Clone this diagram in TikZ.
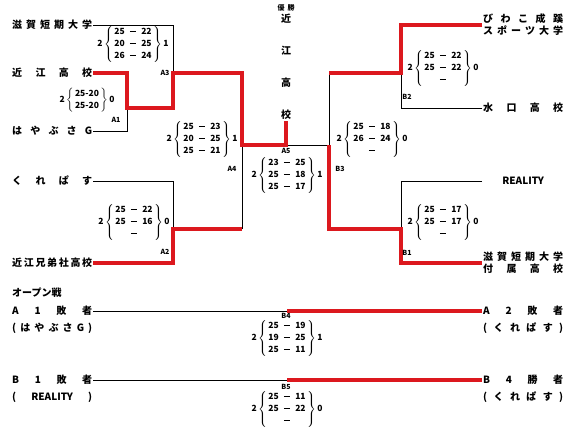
\documentclass[tikz,border=0pt]{standalone}
\usepackage{fontspec}
\setmainfont{Noto Sans CJK JP}
\usetikzlibrary{positioning}

\definecolor{winred}{RGB}{220,24,30}
\newcommand{\spreadname}[1]{\hbox to 80pt{#1}}
\newcommand{\dsh}{\rule[2.6pt]{6.5pt}{1.1pt}}
\newcommand{\setscore}[3]{#1\,$\left\{\,\begin{tabular}{@{}r@{\hspace{5pt}}c@{\hspace{5pt}}l@{}}#3\end{tabular}\,\right\}$\,#2}

\tikzstyle{team} = [anchor=west, inner sep=1pt, align=center, font=\bfseries\fontsize{10}{12}\selectfont]
\tikzstyle{score} = [inner sep=0pt, font=\bfseries\fontsize{8.5}{12}\selectfont]
\tikzstyle{matchlabel} = [inner sep=0pt, font=\bfseries\fontsize{7}{8}\selectfont]
\tikzstyle{champ} = [inner sep=1pt, align=center, font=\bfseries\fontsize{10}{32}\selectfont]
\tikzstyle{loseline} = [line width=0.9pt, draw=black]
\tikzstyle{winline} = [line width=3.2pt, draw=winred]

\begin{document}
\begin{tikzpicture}[x=1pt, y=-1pt]
\useasboundingbox (0,0) rectangle (580,431);

% teams, left block
\node (shiga) [team] at (11,25) {\spreadname{滋\hfil 賀\hfil 短\hfil 期\hfil 大\hfil 学}};
\node (omi) [team] at (11,73) {\spreadname{近\hfil 江\hfil 高\hfil 校}};
\node (hayabusa) [team] at (11,131) {\spreadname{は\hfil や\hfil ぶ\hfil さ\hfil G}};
\node (krepas) [team] at (11,181) {\spreadname{く\hfil れ\hfil ぱ\hfil す}};
\node (kyodai) [team] at (11,263) {\spreadname{近\hfil 江\hfil 兄\hfil 弟\hfil 社\hfil 高\hfil 校}};

% teams, right block
\node (biwako) [team] at (482,25) {\spreadname{び\hfil わ\hfil こ\hfil 成\hfil 蹊}\\\spreadname{ス\hfil ポ\hfil ー\hfil ツ\hfil 大\hfil 学}};
\node (minakuchi) [team] at (482,108) {\spreadname{水\hfil 口\hfil 高\hfil 校}};
\node (reality) [team] at (482,181) {\spreadname{\hfil REALITY\hfil}};
\node (fuzoku) [team] at (482,263) {\spreadname{滋\hfil 賀\hfil 短\hfil 期\hfil 大\hfil 学}\\\spreadname{付\hfil 属\hfil 高\hfil 校}};

% champion
\node (yusho) [matchlabel] at (286,8) {優\hspace{3pt}勝};
\node (champ) [champ] at (286,67) {近\\江\\高\\校};

% match points
\coordinate (a1t) at (127,73);
\coordinate (a1b) at (127,131);
\coordinate (a1o) at (127,108);
\coordinate (a3t) at (173,25);
\coordinate (a3b) at (173,108);
\coordinate (a3o) at (173,73);
\coordinate (a2t) at (173,181);
\coordinate (a2b) at (173,263);
\coordinate (a2o) at (173,229);
\coordinate (a4t) at (242,73);
\coordinate (a4b) at (242,229);
\coordinate (a4o) at (242,145);
\coordinate (a5) at (286,145);
\coordinate (b2t) at (401,25);
\coordinate (b2b) at (401,108);
\coordinate (b2o) at (401,73);
\coordinate (b1t) at (401,181);
\coordinate (b1b) at (401,263);
\coordinate (b1o) at (401,229);
\coordinate (b3t) at (329,73);
\coordinate (b3b) at (329,229);
\coordinate (b3o) at (329,145);

% losing lines
\draw[loseline] (hayabusa.east) -- (a1b) -- (a1o);
\draw[loseline] (shiga.east) -- (a3t) -- (a3o);
\draw[loseline] (krepas.east) -- (a2t) -- (a2o);
\draw[loseline] (a4o) -- (a4b);
\draw[loseline] (minakuchi.west) -- (b2b) -- (b2o);
\draw[loseline] (reality.west) -- (b1t) -- (b1o);
\draw[loseline] (b3t) -- (b3o) -- (a5);

% winning lines
\draw[winline] (omi.east) -- (a1t) -- (a1o) -- (a3b) -- (a3o) -- (a4t) -- (a4o) -- (a5) -- (champ.south);
\draw[winline] (kyodai.east) -- (a2b) -- (a2o) -- (a4b);
\draw[winline] (biwako.west) -- (b2t) -- (b2o) -- (b3t);
\draw[winline] (fuzoku.west) -- (b1b) -- (b1o) -- (b3b) -- (b3o);

% match labels
\node (la1) [matchlabel] at (116,120) {A1};
\node (la2) [matchlabel] at (165,252) {A2};
\node (la3) [matchlabel] at (165,73) {A3};
\node (la4) [matchlabel] at (232,169) {A4};
\node (la5) [matchlabel] at (286,151) {A5};
\node (lb1) [matchlabel] at (407,253) {B1};
\node (lb2) [matchlabel] at (407,97) {B2};
\node (lb3) [matchlabel] at (340,169) {B3};

% scores
\node (sa1) [score] at (87,100) {\setscore{2}{0}{\multicolumn{3}{@{}c@{}}{25-20}\\\multicolumn{3}{@{}c@{}}{25-20}}};
\node (sa3) [score] at (133,44) {\setscore{2}{1}{25 & \dsh & 22\\20 & \dsh & 25\\26 & \dsh & 24}};
\node (sa2) [score] at (134,222) {\setscore{2}{0}{25 & \dsh & 22\\25 & \dsh & 16\\ & \dsh & }};
\node (sa4) [score] at (202,139) {\setscore{2}{1}{25 & \dsh & 23\\20 & \dsh & 25\\25 & \dsh & 21}};
\node (sa5) [score] at (287,175) {\setscore{2}{1}{23 & \dsh & 25\\25 & \dsh & 18\\25 & \dsh & 17}};
\node (sb3) [score] at (372,139) {\setscore{2}{0}{25 & \dsh & 18\\26 & \dsh & 24\\ & \dsh & }};
\node (sb2) [score] at (443,68) {\setscore{2}{0}{25 & \dsh & 22\\25 & \dsh & 22\\ & \dsh & }};
\node (sb1) [score] at (443,222) {\setscore{2}{0}{25 & \dsh & 17\\25 & \dsh & 17\\ & \dsh & }};

% open games
\node (open) [team] at (11,293) {オープン戦};
\node (alose1) [team] at (11,311) {\spreadname{A\hfil 1\hfil 敗\hfil 者}};
\node (alose1n) [team] at (11,328) {\spreadname{(\hfil は\hfil や\hfil ぶ\hfil さ\hfil G\hfil )}};
\node (alose2) [team] at (482,311) {\spreadname{A\hfil 2\hfil 敗\hfil 者}};
\node (alose2n) [team] at (482,328) {\spreadname{(\hfil く\hfil れ\hfil ぱ\hfil す\hfil )}};
\node (blose1) [team] at (11,380) {\spreadname{B\hfil 1\hfil 敗\hfil 者}};
\node (blose1n) [team] at (11,397) {\spreadname{(\hfil REALITY\hfil )}};
\node (bwin4) [team] at (482,380) {\spreadname{B\hfil 4\hfil 勝\hfil 者}};
\node (bwin4n) [team] at (482,397) {\spreadname{(\hfil く\hfil れ\hfil ぱ\hfil す\hfil )}};

\coordinate (b4) at (287,311);
\coordinate (b5) at (287,380);
\draw[loseline] (alose1.east) -- (b4);
\draw[winline] (b4) -- (alose2.west);
\draw[loseline] (blose1.east) -- (b5);
\draw[winline] (b5) -- (bwin4.west);

\node (lb4) [matchlabel] at (286,316) {B4};
\node (lb5) [matchlabel] at (286,387) {B5};
\node (sb4) [score] at (287,338) {\setscore{2}{1}{25 & \dsh & 19\\19 & \dsh & 25\\25 & \dsh & 11}};
\node (sb5) [score] at (287,409) {\setscore{2}{0}{25 & \dsh & 11\\25 & \dsh & 22\\ & \dsh & }};

\end{tikzpicture}
\end{document}
